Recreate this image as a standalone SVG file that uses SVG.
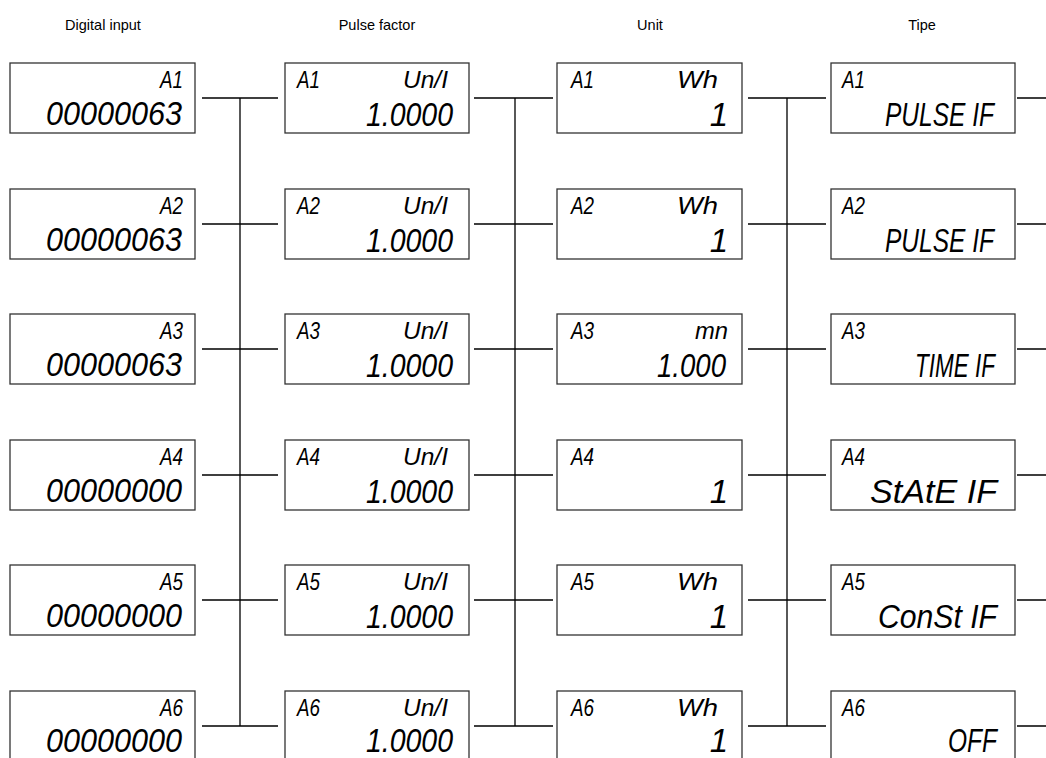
<svg xmlns="http://www.w3.org/2000/svg" width="1046" height="758" viewBox="0 0 1046 758">
<style>
.hd{font-family:"Liberation Sans",Arial,sans-serif;font-size:14.5px;fill:#000;text-anchor:middle}
.box{fill:#fff;stroke:#333;stroke-width:1.3}
.s{font-family:"Liberation Sans",Arial,sans-serif;font-style:italic;font-size:24px;fill:#000}
.b{font-family:"Liberation Sans",Arial,sans-serif;font-style:italic;font-size:33px;fill:#000}
.ln{stroke:#000;stroke-width:1.3;fill:none}
</style>
<rect width="1046" height="758" fill="#fff"/>
<g id="headers">
<text class="hd" x="103" y="30">Digital input</text>
<text class="hd" x="377" y="30">Pulse factor</text>
<text class="hd" x="650" y="30">Unit</text>
<text class="hd" x="922" y="30">Tipe</text>
</g>
<g id="connectors" class="ln">
<path d="M202 98H278M202 224H278M202 349H278M202 475H278M202 600H278M202 726H278M240 98V726"/>
<path d="M474 98H553M474 224H553M474 349H553M474 475H553M474 600H553M474 726H553M515 98V726"/>
<path d="M748 98H826M748 224H826M748 349H826M748 475H826M748 600H826M748 726H826M787 98V726"/>
<path d="M1017 98H1046M1017 224H1046M1017 349H1046M1017 475H1046M1017 600H1046M1017 726H1046"/>
</g>
<!-- Column 1 -->
<g id="di1"><rect class="box" x="10" y="63" width="185" height="70"/><text class="s" x="160" y="88" textLength="23" lengthAdjust="spacingAndGlyphs">A1</text><text class="b" x="46" y="125" textLength="136" lengthAdjust="spacingAndGlyphs">00000063</text></g>
<g id="di2"><rect class="box" x="10" y="189" width="185" height="70"/><text class="s" x="160" y="214" textLength="23" lengthAdjust="spacingAndGlyphs">A2</text><text class="b" x="46" y="251" textLength="136" lengthAdjust="spacingAndGlyphs">00000063</text></g>
<g id="di3"><rect class="box" x="10" y="314" width="185" height="70"/><text class="s" x="160" y="339" textLength="23" lengthAdjust="spacingAndGlyphs">A3</text><text class="b" x="46" y="376" textLength="136" lengthAdjust="spacingAndGlyphs">00000063</text></g>
<g id="di4"><rect class="box" x="10" y="440" width="185" height="70"/><text class="s" x="160" y="465" textLength="23" lengthAdjust="spacingAndGlyphs">A4</text><text class="b" x="46" y="502" textLength="136" lengthAdjust="spacingAndGlyphs">00000000</text></g>
<g id="di5"><rect class="box" x="10" y="565" width="185" height="70"/><text class="s" x="160" y="590" textLength="23" lengthAdjust="spacingAndGlyphs">A5</text><text class="b" x="46" y="627" textLength="136" lengthAdjust="spacingAndGlyphs">00000000</text></g>
<g id="di6"><rect class="box" x="10" y="691" width="185" height="70"/><text class="s" x="160" y="716" textLength="23" lengthAdjust="spacingAndGlyphs">A6</text><text class="b" x="46" y="752" textLength="136" lengthAdjust="spacingAndGlyphs">00000000</text></g>
<!-- Column 2 -->
<g id="pf1"><rect class="box" x="285" y="63" width="184" height="70"/><text class="s" x="297" y="88" textLength="23" lengthAdjust="spacingAndGlyphs">A1</text><text class="s" x="403" y="88" textLength="45" lengthAdjust="spacingAndGlyphs">Un/I</text><text class="b" x="366" y="126" textLength="87" lengthAdjust="spacingAndGlyphs">1.0000</text></g>
<g id="pf2"><rect class="box" x="285" y="189" width="184" height="70"/><text class="s" x="297" y="214" textLength="23" lengthAdjust="spacingAndGlyphs">A2</text><text class="s" x="403" y="214" textLength="45" lengthAdjust="spacingAndGlyphs">Un/I</text><text class="b" x="366" y="252" textLength="87" lengthAdjust="spacingAndGlyphs">1.0000</text></g>
<g id="pf3"><rect class="box" x="285" y="314" width="184" height="70"/><text class="s" x="297" y="339" textLength="23" lengthAdjust="spacingAndGlyphs">A3</text><text class="s" x="403" y="339" textLength="45" lengthAdjust="spacingAndGlyphs">Un/I</text><text class="b" x="366" y="377" textLength="87" lengthAdjust="spacingAndGlyphs">1.0000</text></g>
<g id="pf4"><rect class="box" x="285" y="440" width="184" height="70"/><text class="s" x="297" y="465" textLength="23" lengthAdjust="spacingAndGlyphs">A4</text><text class="s" x="403" y="465" textLength="45" lengthAdjust="spacingAndGlyphs">Un/I</text><text class="b" x="366" y="503" textLength="87" lengthAdjust="spacingAndGlyphs">1.0000</text></g>
<g id="pf5"><rect class="box" x="285" y="565" width="184" height="70"/><text class="s" x="297" y="590" textLength="23" lengthAdjust="spacingAndGlyphs">A5</text><text class="s" x="403" y="590" textLength="45" lengthAdjust="spacingAndGlyphs">Un/I</text><text class="b" x="366" y="628" textLength="87" lengthAdjust="spacingAndGlyphs">1.0000</text></g>
<g id="pf6"><rect class="box" x="285" y="691" width="184" height="70"/><text class="s" x="297" y="716" textLength="23" lengthAdjust="spacingAndGlyphs">A6</text><text class="s" x="403" y="716" textLength="45" lengthAdjust="spacingAndGlyphs">Un/I</text><text class="b" x="366" y="752" textLength="87" lengthAdjust="spacingAndGlyphs">1.0000</text></g>
<!-- Column 3 -->
<g id="un1"><rect class="box" x="557" y="63" width="185" height="70"/><text class="s" x="571" y="88" textLength="23" lengthAdjust="spacingAndGlyphs">A1</text><text class="s" x="677" y="88" textLength="41" lengthAdjust="spacingAndGlyphs">Wh</text><text class="b" x="728" y="126" text-anchor="end">1</text></g>
<g id="un2"><rect class="box" x="557" y="189" width="185" height="70"/><text class="s" x="571" y="214" textLength="23" lengthAdjust="spacingAndGlyphs">A2</text><text class="s" x="677" y="214" textLength="41" lengthAdjust="spacingAndGlyphs">Wh</text><text class="b" x="728" y="252" text-anchor="end">1</text></g>
<g id="un3"><rect class="box" x="557" y="314" width="185" height="70"/><text class="s" x="571" y="339" textLength="23" lengthAdjust="spacingAndGlyphs">A3</text><text class="s" x="695" y="339" textLength="33" lengthAdjust="spacingAndGlyphs">mn</text><text class="b" x="657" y="377" textLength="69" lengthAdjust="spacingAndGlyphs">1.000</text></g>
<g id="un4"><rect class="box" x="557" y="440" width="185" height="70"/><text class="s" x="571" y="465" textLength="23" lengthAdjust="spacingAndGlyphs">A4</text><text class="b" x="728" y="503" text-anchor="end">1</text></g>
<g id="un5"><rect class="box" x="557" y="565" width="185" height="70"/><text class="s" x="571" y="590" textLength="23" lengthAdjust="spacingAndGlyphs">A5</text><text class="s" x="677" y="590" textLength="41" lengthAdjust="spacingAndGlyphs">Wh</text><text class="b" x="728" y="628" text-anchor="end">1</text></g>
<g id="un6"><rect class="box" x="557" y="691" width="185" height="70"/><text class="s" x="571" y="716" textLength="23" lengthAdjust="spacingAndGlyphs">A6</text><text class="s" x="677" y="716" textLength="41" lengthAdjust="spacingAndGlyphs">Wh</text><text class="b" x="728" y="752" text-anchor="end">1</text></g>
<!-- Column 4 -->
<g id="tp1"><rect class="box" x="831" y="63" width="184" height="70"/><text class="s" x="842" y="88" textLength="23" lengthAdjust="spacingAndGlyphs">A1</text><text class="b" x="885" y="126" textLength="109" lengthAdjust="spacingAndGlyphs">PULSE IF</text></g>
<g id="tp2"><rect class="box" x="831" y="189" width="184" height="70"/><text class="s" x="842" y="214" textLength="23" lengthAdjust="spacingAndGlyphs">A2</text><text class="b" x="885" y="252" textLength="109" lengthAdjust="spacingAndGlyphs">PULSE IF</text></g>
<g id="tp3"><rect class="box" x="831" y="314" width="184" height="70"/><text class="s" x="842" y="339" textLength="23" lengthAdjust="spacingAndGlyphs">A3</text><text class="b" x="915" y="377" textLength="80" lengthAdjust="spacingAndGlyphs">TIME IF</text></g>
<g id="tp4"><rect class="box" x="831" y="440" width="184" height="70"/><text class="s" x="842" y="465" textLength="23" lengthAdjust="spacingAndGlyphs">A4</text><text class="b" x="870" y="503" textLength="127" lengthAdjust="spacingAndGlyphs">StAtE IF</text></g>
<g id="tp5"><rect class="box" x="831" y="565" width="184" height="70"/><text class="s" x="842" y="590" textLength="23" lengthAdjust="spacingAndGlyphs">A5</text><text class="b" x="878" y="628" textLength="119" lengthAdjust="spacingAndGlyphs">ConSt IF</text></g>
<g id="tp6"><rect class="box" x="831" y="691" width="184" height="70"/><text class="s" x="842" y="716" textLength="23" lengthAdjust="spacingAndGlyphs">A6</text><text class="b" x="948" y="752" textLength="49" lengthAdjust="spacingAndGlyphs">OFF</text></g>
</svg>
